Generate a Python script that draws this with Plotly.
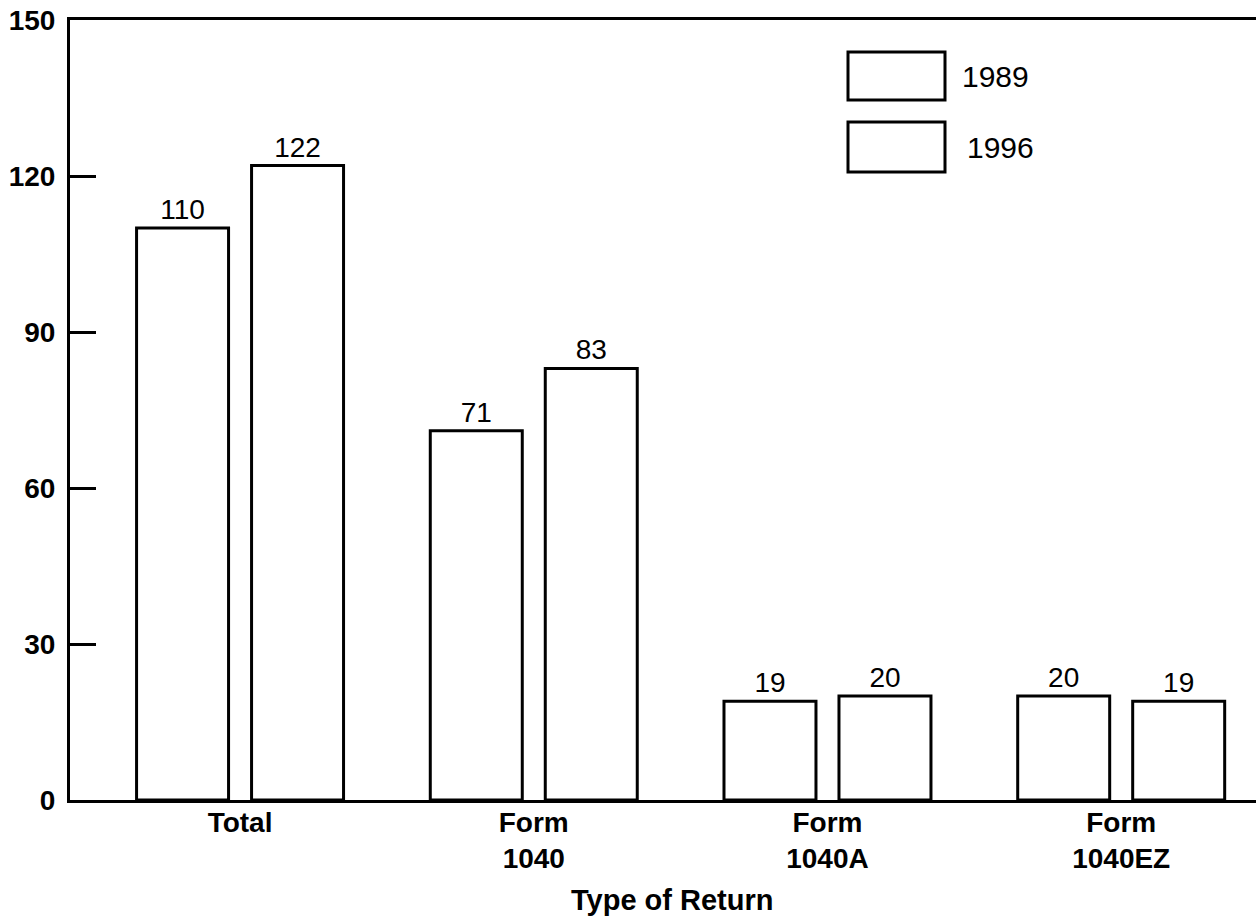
import plotly.graph_objects as go

categories = ["Total", "Form 1040", "Form 1040A", "Form 1040EZ"]
tick_labels = ["Total", "Form<br>1040", "Form<br>1040A", "Form<br>1040EZ"]
series_names = ["1989", "1996"]
values_1989 = [110, 71, 19, 20]
values_1996 = [122, 83, 20, 19]
y_ticks = [0, 30, 60, 90, 120, 150]

FONT = "Liberation Sans, Arial, Helvetica, sans-serif"
x_idx = list(range(len(categories)))

fig = go.Figure()
for name, vals in [(series_names[0], values_1989), (series_names[1], values_1996)]:
    fig.add_trace(go.Bar(
        x=x_idx, y=vals, name=name,
        marker=dict(color="white", line=dict(color="black", width=3)),
        text=[str(v) for v in vals], textposition="outside", textangle=0,
        textfont=dict(family=FONT, size=28, color="black"),
        cliponaxis=False, showlegend=False,
    ))

fig.update_layout(
    width=1257, height=919,
    margin=dict(l=70, r=1, t=20, b=119, autoexpand=False),
    paper_bgcolor="white", plot_bgcolor="white",
    barmode="group", bargap=0.217, bargroupgap=0.2,
    font=dict(family=FONT, color="black"),
    showlegend=False,
)
fig.update_xaxes(
    range=[-0.579, 3.459], tickmode="array", tickvals=x_idx, ticktext=tick_labels,
    showline=True, linecolor="black", linewidth=3, mirror=True,
    showgrid=False, zeroline=False, ticks="", automargin=False,
    tickfont=dict(family=FONT, size=28, color="black", weight="bold"),
    ticklabelstandoff=-5,
)
fig.update_yaxes(
    range=[0, 150], tickmode="array", tickvals=y_ticks,
    ticktext=[str(t) for t in y_ticks],
    showline=True, linecolor="black", linewidth=3,
    showgrid=False, zeroline=False, automargin=False,
    ticks="inside", ticklen=26, tickwidth=2.5, tickcolor="black",
    tickfont=dict(family=FONT, size=28, color="black", weight="bold"),
    ticklabelstandoff=6,
)

# Axis title
fig.add_annotation(text="<b>Type of Return</b>", xref="paper", yref="paper",
                   x=(672 - 70) / 1186, y=-(900 - 800) / 780, xanchor="center", yanchor="middle",
                   showarrow=False, font=dict(family=FONT, size=29, color="black"))

# Legend (boxes + labels)
legend_rows = [(series_names[0], 52, 100, 77, 960), (series_names[1], 122, 172, 147, 965)]
for name, top, bot, mid, tx in legend_rows:
    fig.add_shape(type="rect", xref="paper", yref="paper",
                  x0=(848 - 70) / 1186, x1=(945 - 70) / 1186,
                  y0=(800 - bot) / 780, y1=(800 - top) / 780,
                  line=dict(color="black", width=3), fillcolor="white")
    fig.add_annotation(text=name, xref="paper", yref="paper",
                       x=(tx - 70) / 1186, y=(800 - mid) / 780,
                       xanchor="left", yanchor="middle", showarrow=False,
                       font=dict(family=FONT, size=30, color="black"))

fig.write_html("out.html", config={"displayModeBar": False},
               post_script="document.body.style.margin='0';document.body.style.overflow='hidden';")
